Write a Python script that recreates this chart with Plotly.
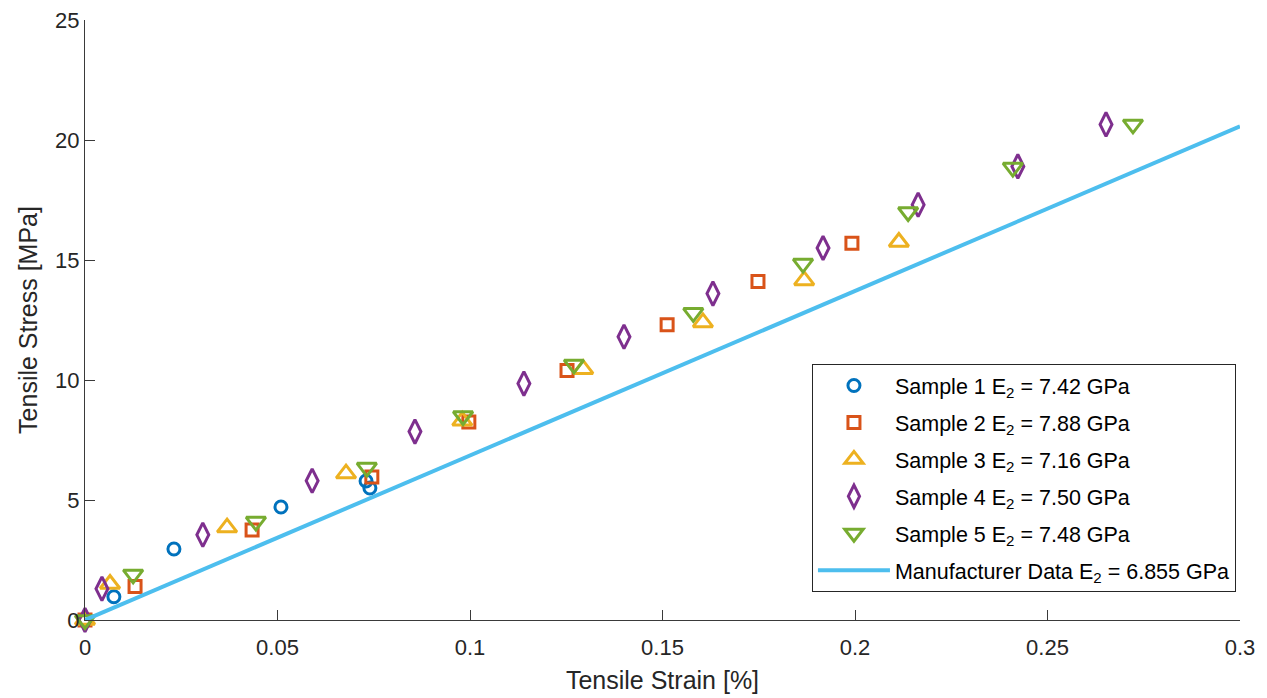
import plotly.graph_objects as go

s1_x = [0.0, 0.0075, 0.0231, 0.0509, 0.0730, 0.0740]
s1_y = [0.0, 0.97, 2.96, 4.71, 5.79, 5.50]

s2_x = [0.0, 0.0130, 0.0434, 0.0745, 0.0997, 0.1252, 0.1512, 0.1748, 0.1992]
s2_y = [0.0, 1.40, 3.75, 5.96, 8.25, 10.40, 12.30, 14.10, 15.70]

s3_x = [0.0, 0.0065, 0.0369, 0.0678, 0.0980, 0.1294, 0.1605, 0.1868, 0.2114]
s3_y = [0.0, 1.50, 3.85, 6.10, 8.30, 10.45, 12.40, 14.15, 15.75]

s4_x = [0.0, 0.0044, 0.0306, 0.0590, 0.0857, 0.1140, 0.1400, 0.1631, 0.1917, 0.2164, 0.2423, 0.2652]
s4_y = [0.0, 1.30, 3.55, 5.80, 7.85, 9.85, 11.80, 13.60, 15.50, 17.30, 18.90, 20.65]

s5_x = [0.0, 0.0125, 0.0444, 0.0732, 0.0982, 0.1270, 0.1580, 0.1865, 0.2138, 0.2410, 0.2722]
s5_y = [0.0, 1.90, 4.10, 6.35, 8.50, 10.65, 12.80, 14.85, 17.00, 18.85, 20.65]

mf_x = [0.0, 0.3]
mf_y = [0.0, 0.3 * 6.855 * 10]  # strain % -> stress MPa

names = [
    "Sample 1 E<sub>2</sub> = 7.42 GPa",
    "Sample 2 E<sub>2</sub> = 7.88 GPa",
    "Sample 3 E<sub>2</sub> = 7.16 GPa",
    "Sample 4 E<sub>2</sub> = 7.50 GPa",
    "Sample 5 E<sub>2</sub> = 7.48 GPa",
    "Manufacturer Data E<sub>2</sub> = 6.855 GPa",
]
colors = ["#0072BD", "#D95319", "#EDB120", "#7E2F8E", "#77AC30", "#4DBEEE"]
symbols = ["circle-open", "square-open", "triangle-up-open", "diamond-tall-open", "triangle-down-open"]
sizes = [12, 12, 17, 17, 17]

FONT = "Liberation Sans, Arial, sans-serif"

fig = go.Figure()
data = [(s1_x, s1_y), (s2_x, s2_y), (s3_x, s3_y), (s4_x, s4_y), (s5_x, s5_y)]
for i, (xs, ys) in enumerate(data):
    fig.add_trace(go.Scatter(
        x=xs, y=ys, mode="markers", name=names[i], legendgroup=f"g{i}",
        marker=dict(symbol=symbols[i], size=sizes[i], color=colors[i],
                    line=dict(width=3, color=colors[i])),
        cliponaxis=False,
    ))
fig.add_trace(go.Scatter(x=mf_x, y=mf_y, mode="lines", name=names[5], legendgroup="g5",
                         line=dict(color=colors[5], width=4)))

axis_common = dict(
    showgrid=False, zeroline=False, showline=True, linecolor="#3a3a3a", linewidth=1,
    ticks="inside", ticklen=10, tickcolor="#3a3a3a", mirror=False,
    tickfont=dict(family=FONT, size=22, color="#262626"),
    ticklabeloverflow="allow", automargin=False,
)
fig.update_xaxes(range=[0, 0.3], tickvals=[0, 0.05, 0.1, 0.15, 0.2, 0.25, 0.3],
                 ticktext=["0", "0.05", "0.1", "0.15", "0.2", "0.25", "0.3"],
                 ticklabelstandoff=8,
                 title=dict(text="Tensile Strain [%]", standoff=12,
                            font=dict(family=FONT, size=25, color="#262626")),
                 **axis_common)
fig.update_yaxes(range=[0, 25], tickvals=[0, 5, 10, 15, 20, 25],
                 title=dict(text="Tensile Stress [MPa]", standoff=10,
                            font=dict(family=FONT, size=25, color="#262626")),
                 **axis_common)

fig.update_layout(
    width=1259, height=690,
    margin=dict(l=77, r=27, t=12, b=78, autoexpand=False),
    plot_bgcolor="white", paper_bgcolor="white",
    legend=dict(x=0.6294, y=0.4267, xanchor="left", yanchor="top",
                bordercolor="#262626", borderwidth=1, bgcolor="white",
                font=dict(family=FONT, size=21.5, color="#000000"),
                itemwidth=72, tracegroupgap=6),
)

fig.write_html("out.html")
